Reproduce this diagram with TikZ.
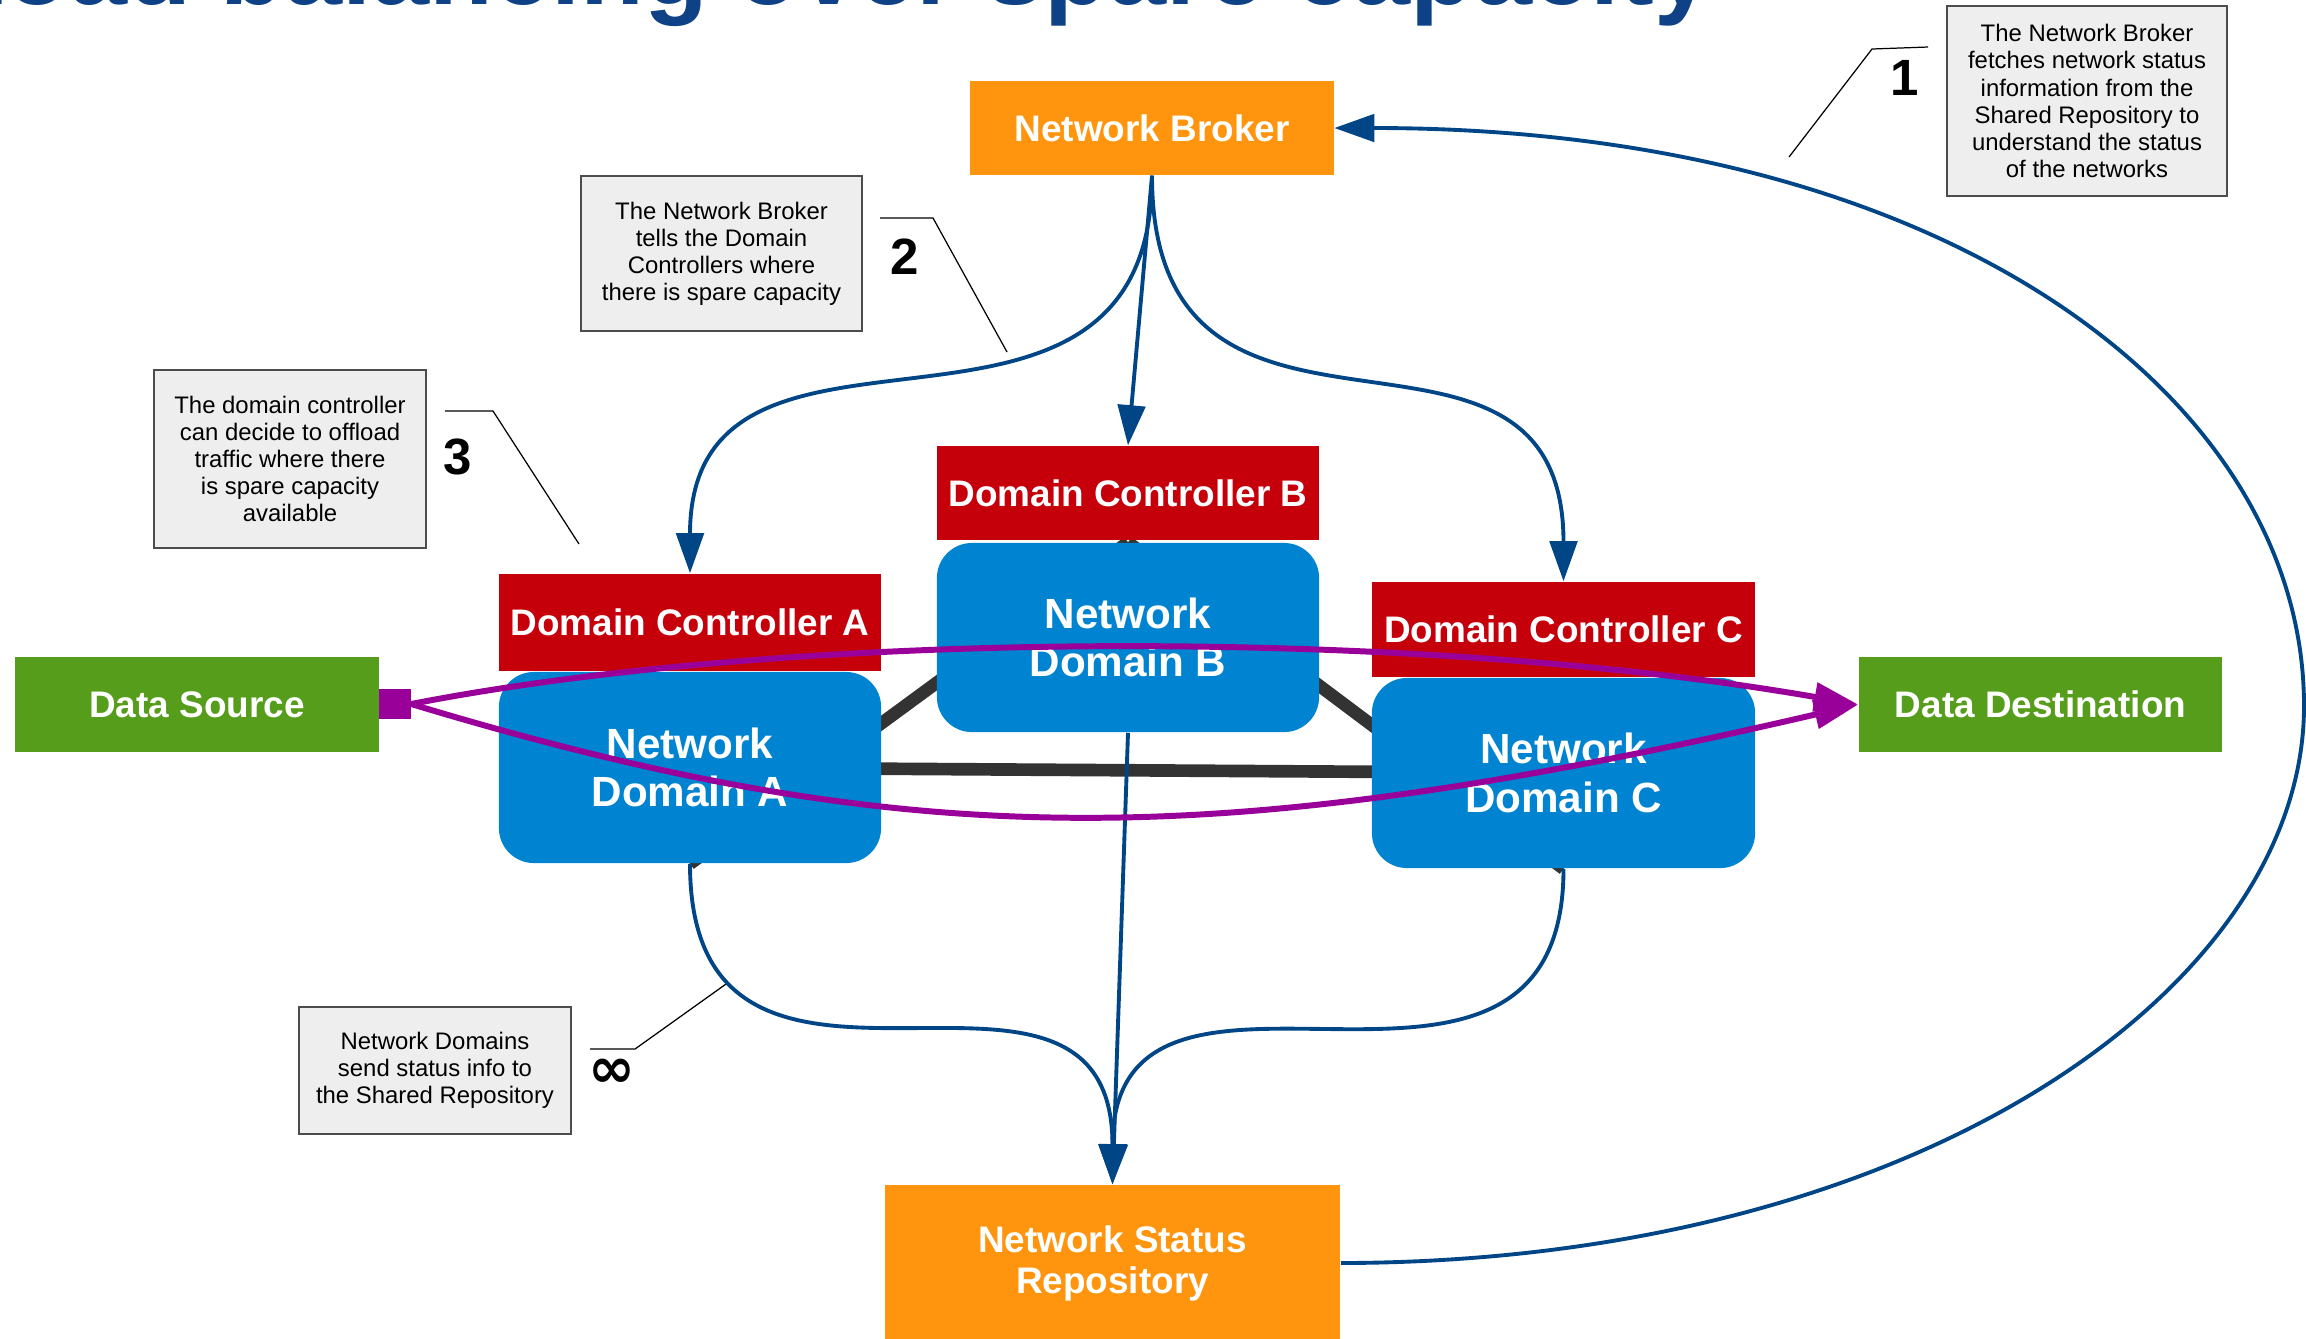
\documentclass[tikz,border=0pt]{standalone}
\usepackage{fontspec}
\setmainfont{Liberation Sans}
\newfontfamily\symfont{DejaVu Sans}
\usetikzlibrary{arrows.meta,backgrounds}
\definecolor{brokerorange}{HTML}{FF950E}
\definecolor{dcred}{HTML}{C5000B}
\definecolor{ndblue}{HTML}{0084D1}
\definecolor{srcgreen}{HTML}{579D1C}
\definecolor{flowpurple}{HTML}{990099}
\definecolor{arrowblue}{HTML}{004586}
\definecolor{titleblue}{HTML}{0E4185}
\definecolor{linkgray}{HTML}{333333}
\definecolor{notegray}{HTML}{EEEEEE}
\begin{document}
\begin{tikzpicture}[x=0.01cm,y=-0.01cm,
  box/.style={inner sep=0pt, align=center, text=white, font=\bfseries\fontsize{10.5}{11.7}\selectfont},
  orangebox/.style={box, fill=brokerorange},
  dcbox/.style={box, fill=dcred, minimum width=3.82cm},
  ndbox/.style={box, fill=ndblue, rounded corners=0.35cm, minimum width=3.82cm, font=\bfseries\fontsize{12}{13.8}\selectfont},
  greenbox/.style={box, fill=srcgreen, minimum width=3.64cm, minimum height=0.95cm},
  note/.style={draw=black!70, line width=0.45pt, fill=notegray, inner sep=0pt, align=center, font=\fontsize{6.8}{7.7}\selectfont},
  numlabel/.style={font=\bfseries\fontsize{14.5}{16}\selectfont, inner sep=0pt},
  leader/.style={draw=black, line width=0.35pt},
  infoarrow/.style={draw=arrowblue, line width=1.1pt, -{Triangle[length=11.4pt,width=7.8pt]}},
  link/.style={draw=linkgray, line width=3.6pt},
  flow/.style={draw=flowpurple, line width=1.7pt, -{Triangle[length=12.5pt,width=8pt]}}
]
\useasboundingbox (0,0) rectangle (2306,1338);

% title (cut off at the top edge)
\node[anchor=base east, text=titleblue, inner sep=0pt,
      font=\bfseries\fontsize{29.7}{33}\selectfont] (title) at (1713,4) {Load balancing over spare capacity};

% main boxes
\node[orangebox, minimum width=3.63cm, minimum height=0.94cm] (broker) at (1152,128) {Network Broker};
\node[ndbox, minimum height=1.89cm] (ndB) at (1128,637.5) {Network\\Domain B};
\node[ndbox, minimum height=1.91cm] (ndA) at (690,767.5) {Network\\Domain A};
\node[ndbox, minimum height=1.90cm, minimum width=3.83cm] (ndC) at (1563.5,773) {Network\\Domain C};
\node[dcbox, minimum height=0.94cm] (dcB) at (1128,493) {Domain Controller B};
\node[dcbox, minimum height=0.97cm] (dcA) at (690,622.5) {Domain Controller A};
\node[dcbox, minimum height=0.95cm, minimum width=3.83cm] (dcC) at (1563.5,629.5) {Domain Controller C};
\node[greenbox] (src) at (197,704.5) {Data Source};
\node[greenbox, minimum width=3.63cm] (dst) at (2040.5,704.5) {Data Destination};
\node[orangebox, minimum width=4.55cm, minimum height=1.56cm] (repo) at (1112.5,1263) {Network Status\\Repository};

% links between network domains
\begin{scope}[on background layer]
  \draw[link] (ndA.south) -- (ndB.north);
  \draw[link] (ndB.north) -- (ndC.south);
  \draw[link] (ndA.center) -- (ndC.center);
\end{scope}

% notes
\node[note, minimum width=2.80cm, minimum height=1.90cm] (n1) at (2087,101)
  {The Network Broker\\fetches network status\\information from the\\Shared Repository to\\understand the status\\of the networks};
\node[note, minimum width=2.81cm, minimum height=1.55cm] (n2) at (721.5,253.5)
  {The Network Broker\\tells the Domain\\Controllers where\\there is spare capacity};
\node[note, minimum width=2.72cm, minimum height=1.78cm] (n3) at (290,459)
  {The domain controller\\can decide to offload\\traffic where there\\is spare capacity\\available};
\node[note, minimum width=2.72cm, minimum height=1.27cm] (n4) at (435,1070.5)
  {Network Domains\\send status info to\\the Shared Repository};

\node[numlabel] (k1) at (1905,78) {1};
\node[numlabel] (k2) at (905,257) {2};
\node[numlabel] (k3) at (458,457) {3};
\node[inner sep=0pt, font=\symfont\bfseries\fontsize{16}{18}\selectfont] (k4) at (612,1073) {∞};

% leader lines
\coordinate (l1a) at (1928,47); \coordinate (l1b) at (1872,49); \coordinate (l1c) at (1789,157);
\coordinate (l2a) at (880,218); \coordinate (l2b) at (933,218); \coordinate (l2c) at (1007,352);
\coordinate (l3a) at (445,411); \coordinate (l3b) at (493,411); \coordinate (l3c) at (579,544);
\coordinate (l4a) at (590,1049); \coordinate (l4b) at (635,1049); \coordinate (l4c) at (726,984);
\draw[leader] (l1a) -- (l1b) -- (l1c);
\draw[leader] (l2a) -- (l2b) -- (l2c);
\draw[leader] (l3a) -- (l3b) -- (l3c);
\draw[leader] (l4a) -- (l4b) -- (l4c);

% information arrows
\draw[infoarrow] (broker.south) .. controls +(0,330) and +(0,-310) .. (dcA.north);
\draw[infoarrow] (broker.south) -- (dcB.north);
\draw[infoarrow] (broker.south) .. controls +(0,334) and +(0,-317) .. (dcC.north);
\draw[infoarrow] (ndA.south) .. controls +(0,314) and +(0,-290) .. (repo.north);
\draw[infoarrow] (ndB.south) -- (repo.north);
\draw[infoarrow] (ndC.south) .. controls +(0,310) and +(0,-290) .. (repo.north);
\coordinate (arcR) at (2304,706);
\draw[infoarrow] (repo.east) .. controls (1920,1262) and (2304,986) .. (arcR)
  .. controls (2304,400) and (1950,128) .. (broker.east);

% traffic flows
\node[fill=flowpurple, inner sep=0pt, minimum width=0.31cm, minimum height=0.30cm] (sq) at (395,704) {};
\draw[flow] (sq.east) .. controls (800,628) and (1420,628) .. (dst.west);
\draw[flow] (sq.east) .. controls (908,854) and (1215,854) .. (dst.west);
\end{tikzpicture}
\end{document}
